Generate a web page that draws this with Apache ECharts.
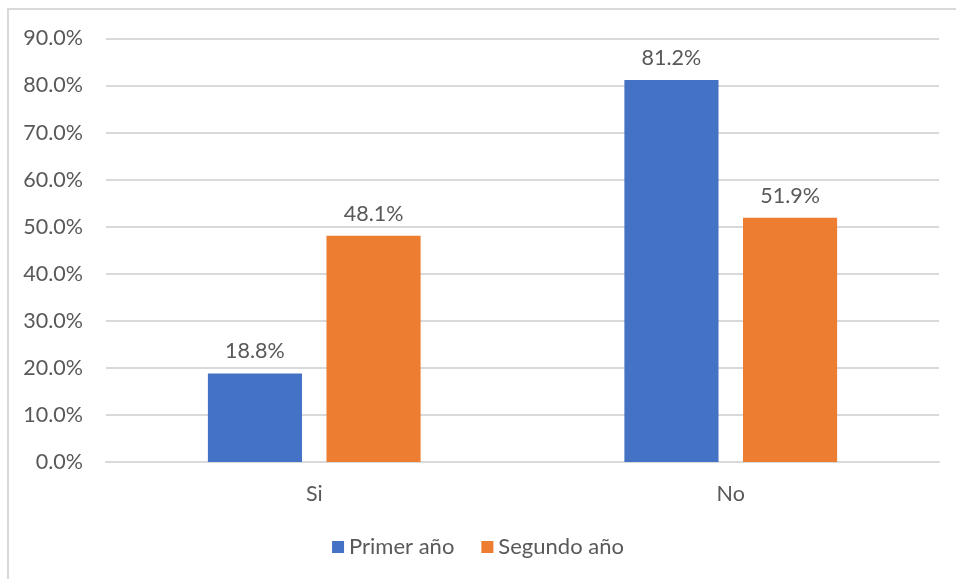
<!DOCTYPE html>
<html>
<head>
<meta charset="utf-8">
<script src="https://cdn.jsdelivr.net/npm/echarts@6/dist/echarts.min.js"></script>
<style>
  html, body { margin: 0; padding: 0; background: #fff; }
  #main { width: 956px; height: 579px; }
</style>
</head>
<body>
<div id="main"></div>
<script>
var categories = ['Si', 'No'];
var primerAno = [18.8, 81.2];
var segundoAno = [48.1, 51.9];
var seriesNames = ['Primer año', 'Segundo año'];

(function () {
  var myChart = echarts.init(document.getElementById('main'));
  var textColor = '#595959';
  var fontFamily = 'Lato, "Open Sans", sans-serif';

  var labelOpt = {
    show: true,
    position: 'top',
    distance: 11,
    color: textColor,
    fontSize: 21.5,
    fontFamily: fontFamily,
    formatter: function (p) {
      return p.value.toFixed(1) + '%';
    }
  };

  var option = {
    animation: false,
    textStyle: { fontFamily: fontFamily },
    // marco del gráfico (borde superior e izquierdo)
    graphic: [{
      type: 'polyline',
      shape: { points: [[8, 579], [8, 9], [956, 9]] },
      style: { stroke: '#d9d9d9', lineWidth: 2, fill: null }
    }],
    grid: {
      left: 106,
      right: 17,
      top: 38.5,
      bottom: 117
    },
    legend: {
      bottom: 16,
      left: 'center',
      itemWidth: 12,
      itemHeight: 12,
      itemGap: 27,
      icon: 'rect',
      textStyle: { color: textColor, fontSize: 22, fontFamily: fontFamily },
      data: seriesNames
    },
    xAxis: {
      type: 'category',
      data: categories,
      axisLine: { show: true, lineStyle: { color: '#d9d9d9', width: 2 } },
      axisTick: { show: false },
      axisLabel: { color: textColor, fontSize: 21.5, margin: 21, fontFamily: fontFamily }
    },
    yAxis: {
      type: 'value',
      min: 0,
      max: 90,
      interval: 10,
      axisLine: { show: false },
      axisTick: { show: false },
      splitLine: { lineStyle: { color: '#d9d9d9', width: 2 } },
      axisLabel: {
        color: textColor,
        fontSize: 21.5,
        margin: 23,
        fontFamily: fontFamily,
        formatter: function (v) { return v.toFixed(1) + '%'; }
      }
    },
    series: [
      {
        name: seriesNames[0],
        type: 'bar',
        barWidth: '22.6%',
        barGap: '26%',
        itemStyle: { color: '#4472C4' },
        label: labelOpt,
        data: primerAno
      },
      {
        name: seriesNames[1],
        type: 'bar',
        barWidth: '22.6%',
        barGap: '26%',
        itemStyle: { color: '#ED7D31' },
        label: labelOpt,
        data: segundoAno
      }
    ]
  };
  myChart.setOption(option);
})();
</script>
</body>
</html>
